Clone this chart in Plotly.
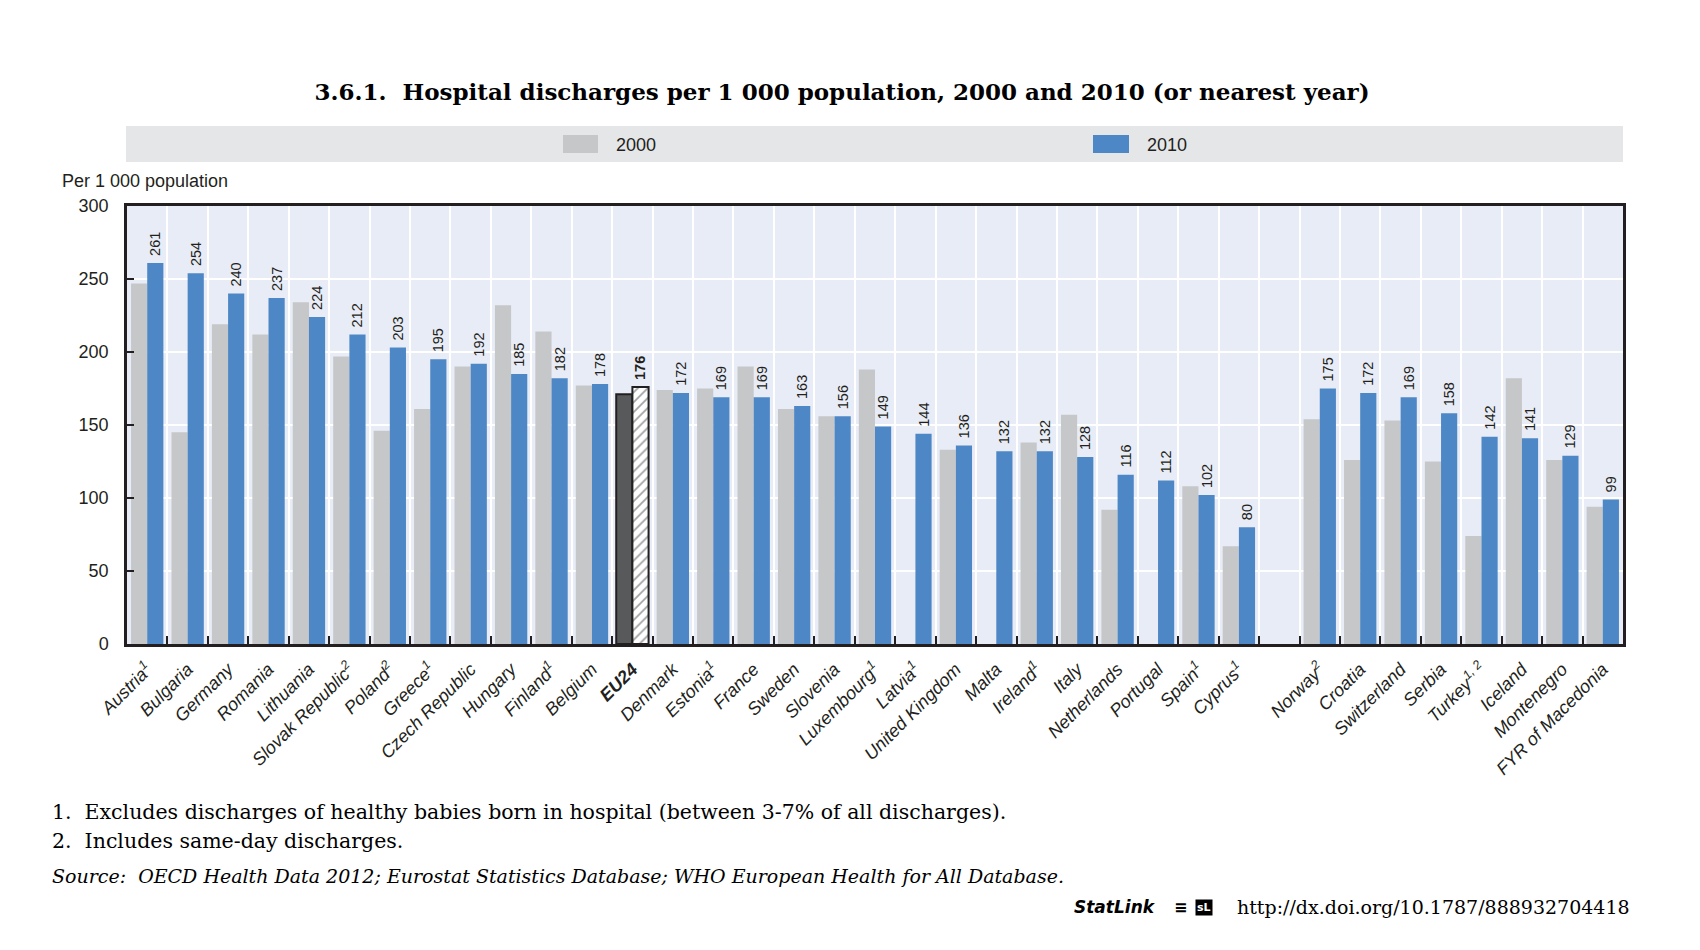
import plotly.graph_objects as go

# ---------------- data ----------------
countries = ["Austria", "Bulgaria", "Germany", "Romania", "Lithuania", "Slovak Republic",
             "Poland", "Greece", "Czech Republic", "Hungary", "Finland", "Belgium", "EU24",
             "Denmark", "Estonia", "France", "Sweden", "Slovenia", "Luxembourg", "Latvia",
             "United Kingdom", "Malta", "Ireland", "Italy", "Netherlands", "Portugal",
             "Spain", "Cyprus", " ", "Norway", "Croatia", "Switzerland", "Serbia", "Turkey",
             "Iceland", "Montenegro", "FYR of Macedonia"]
notes = {"Austria": "1", "Slovak Republic": "2", "Poland": "2", "Greece": "1",
         "Finland": "1", "Estonia": "1", "Luxembourg": "1", "Latvia": "1",
         "Ireland": "1", "Spain": "1", "Cyprus": "1", "Norway": "2", "Turkey": "1, 2"}
v2000 = [247, 145, 219, 212, 234, 197, 146, 161, 190, 232, 214, 177, 171,
         174, 175, 190, 161, 156, 188, None, 133, None, 138, 157, 92, None,
         108, 67, None, 154, 126, 153, 125, 74, 182, 126, 94]
v2010 = [261, 254, 240, 237, 224, 212, 203, 195, 192, 185, 182, 178, 176,
         172, 169, 169, 163, 156, 149, 144, 136, 132, 132, 128, 116, 112,
         102, 80, None, 175, 172, 169, 158, 142, 141, 129, 99]
highlight = "EU24"
yticks = [0, 50, 100, 150, 200, 250, 300]

# ---------------- styling ----------------
GRAY = "#C6C7C9"
BLUE = "#4E87C6"
DARK = "#58595B"
INK = "#231F20"
PLOTBG = "#E8ECF6"
SANS = "Liberation Sans Narrow, Liberation Sans, Arial, sans-serif"
SERIF = "DejaVu Serif, serif"

W, H = 1700, 950
L, R, T, B = 127, 1623, 206, 644


def xp(px):
    return (px - L) / (R - L)


def yp(py):
    return (B - py) / (B - T)


ticktext = []
for c in countries:
    if c == highlight:
        ticktext.append("<b>" + c + "</b>")
    elif c in notes:
        ticktext.append(c + "<sup>" + notes[c] + "</sup>")
    else:
        ticktext.append(c)

c2000 = [DARK if c == highlight else GRAY for c in countries]
lw2000 = [2 if c == highlight else 0 for c in countries]
c2010 = ["white" if c == highlight else BLUE for c in countries]
lw2010 = [2 if c == highlight else 0 for c in countries]
pat2010 = ["/" if c == highlight else "" for c in countries]
txt2010 = []
for c, v in zip(countries, v2010):
    if v is None:
        txt2010.append("")
    elif c == highlight:
        txt2010.append("\u00a0<b>%d</b>" % v)
    else:
        txt2010.append("\u00a0%d" % v)

fig = go.Figure()
fig.add_trace(go.Bar(
    x=countries, y=v2000, name="2000", showlegend=False,
    marker=dict(color=c2000, line=dict(color=INK, width=lw2000)),
    hoverinfo="x+y",
))
fig.add_trace(go.Bar(
    x=countries, y=v2010, name="2010", showlegend=False,
    marker=dict(color=c2010, line=dict(color=INK, width=lw2010),
                pattern=dict(shape=pat2010, fgcolor=INK, size=7, solidity=0.25)),
    text=txt2010, textposition="outside", textangle=-90, constraintext="none",
    textfont=dict(family=SANS, size=14.5, color=INK), cliponaxis=False,
    hoverinfo="x+y",
))

fig.update_layout(
    width=W, height=H, autosize=False,
    margin=dict(l=L, r=W - R, t=T, b=H - B, pad=0),
    paper_bgcolor="white", plot_bgcolor=PLOTBG,
    barmode="group", bargap=0.2, bargroupgap=0.0,
    font=dict(family=SANS, color=INK, size=18),
    title=dict(text="3.6.1.  Hospital discharges per 1 000 population, 2000 and 2010 (or nearest year)",
               font=dict(family=SERIF, size=23, color="black", weight="bold"),
               x=842 / W, xanchor="center", xref="container",
               y=1 - 92 / H, yanchor="middle", yref="container"),
    xaxis=dict(type="category", tickmode="array", tickvals=countries, ticktext=ticktext,
               tickangle=-45, tickson="boundaries", ticks="inside", ticklen=8,
               tickwidth=1.5, tickcolor=INK, ticklabelstandoff=5,
               tickfont=dict(family=SANS, size=18, color=INK, style="italic"),
               showgrid=True, gridcolor="white", gridwidth=1.5,
               showline=True, linecolor=INK, linewidth=2.5, mirror=True,
               range=[-0.5, len(countries) - 0.5]),
    yaxis=dict(range=[0, 300], tickvals=yticks, ticks="inside", ticklen=7,
               tickwidth=1.5, tickcolor=INK,
               tickfont=dict(family=SANS, size=18, color=INK),
               showgrid=True, gridcolor="white", gridwidth=2,
               showline=True, linecolor=INK, linewidth=2.5, mirror=True,
               zeroline=False, ticklabelstandoff=12),
)

shapes = [
    # legend band
    dict(type="rect", xref="paper", yref="paper", x0=xp(126), x1=xp(1623),
         y0=yp(162), y1=yp(126), fillcolor="#E5E6E8", line=dict(width=0), layer="below"),
    dict(type="rect", xref="paper", yref="paper", x0=xp(563), x1=xp(598),
         y0=yp(153), y1=yp(135), fillcolor=GRAY, line=dict(width=0)),
    dict(type="rect", xref="paper", yref="paper", x0=xp(1093), x1=xp(1129),
         y0=yp(153), y1=yp(135), fillcolor=BLUE, line=dict(width=0)),
]
fig.update_layout(shapes=shapes)

ann = [
    dict(text="2000", x=xp(614), y=yp(145), xanchor="left", yanchor="middle"),
    dict(text="2010", x=xp(1145), y=yp(145), xanchor="left", yanchor="middle"),
    dict(text="Per 1 000 population", x=xp(60), y=yp(181), xanchor="left", yanchor="middle"),
    dict(text="1.  Excludes discharges of healthy babies born in hospital (between 3-7% of all discharges).",
         x=xp(50), y=yp(812), xanchor="left", yanchor="middle",
         font=dict(family=SERIF, size=20.5, color="black")),
    dict(text="2.  Includes same-day discharges.",
         x=xp(50), y=yp(841), xanchor="left", yanchor="middle",
         font=dict(family=SERIF, size=20.5, color="black")),
    dict(text="<i>Source:  OECD Health Data 2012; Eurostat Statistics Database; WHO European Health for All Database.</i>",
         x=xp(50), y=yp(876), xanchor="left", yanchor="middle",
         font=dict(family=SERIF, size=19, color="black")),
    dict(text="<b><i>StatLink</i></b>", x=xp(1158), y=yp(907), xanchor="right", yanchor="middle",
         font=dict(family="DejaVu Sans, sans-serif", size=17, color="black")),
    dict(text="<b>\u2261</b>", x=xp(1180), y=yp(907), xanchor="center", yanchor="middle",
         font=dict(family="DejaVu Sans, sans-serif", size=16, color="black")),
    dict(text="<b>sL</b>", x=xp(1204), y=yp(907), xanchor="center", yanchor="middle",
         bgcolor="black", borderpad=1,
         font=dict(family="DejaVu Sans, sans-serif", size=11, color="white")),
    dict(text="http://dx.doi.org/10.1787/888932704418", x=xp(1632), y=yp(907),
         xanchor="right", yanchor="middle",
         font=dict(family=SERIF, size=19, color="black")),
]
for a in ann:
    a.setdefault("xref", "paper")
    a.setdefault("yref", "paper")
    a.setdefault("showarrow", False)
    a.setdefault("font", dict(family=SANS, size=18, color=INK))
fig.update_layout(annotations=ann)

fig.write_html("out.html", config={"displayModeBar": False},
               post_script="document.body.style.margin='0';document.body.style.overflow='hidden';")
